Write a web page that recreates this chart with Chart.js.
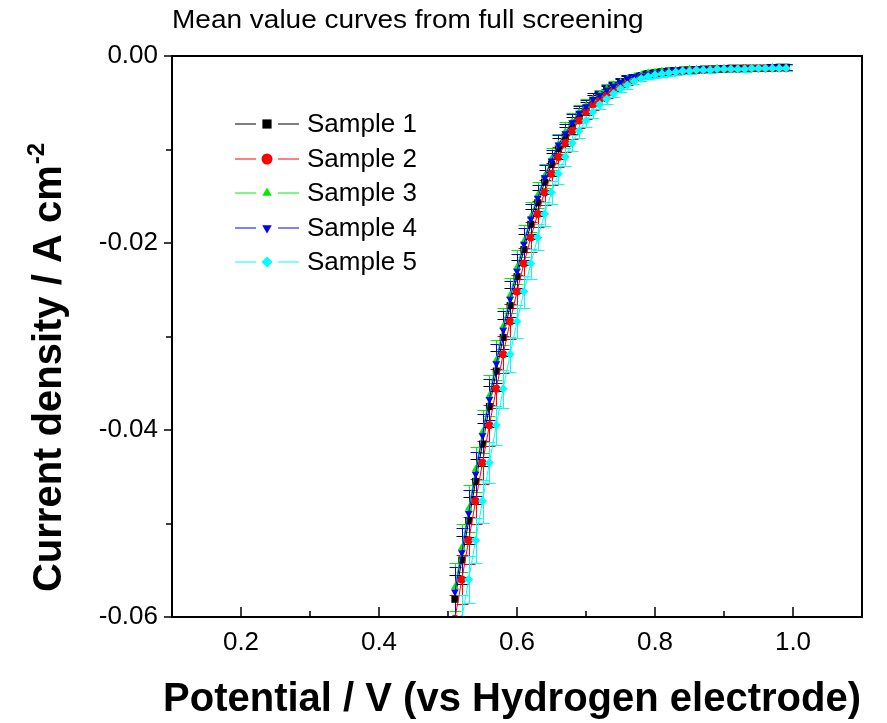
<!DOCTYPE html>
<html>
<head>
<meta charset="utf-8">
<script src="https://cdn.jsdelivr.net/npm/chart.js@4.4.1/dist/chart.umd.min.js"></script>
<style>
  html, body { margin: 0; padding: 0; background: #fff; }
</style>
</head>
<body>
<canvas id="myChart" width="887" height="723"></canvas>
<script>
'use strict';

// potential (V vs HE) shared by all samples
const potential = [0.51, 0.52, 0.53, 0.54, 0.55, 0.56, 0.57, 0.58, 0.59, 0.60,
    0.61, 0.62, 0.63, 0.64, 0.65, 0.66, 0.67, 0.68, 0.69, 0.70,
    0.71, 0.72, 0.73, 0.74, 0.75, 0.76, 0.77, 0.78, 0.79, 0.80,
    0.81, 0.82, 0.83, 0.84, 0.85, 0.86, 0.87, 0.88, 0.89, 0.90,
    0.91, 0.92, 0.93, 0.94, 0.95, 0.96, 0.97, 0.98, 0.99];

const sample1 = [-0.0581, -0.0539, -0.0497, -0.0455, -0.0415, -0.0375, -0.0337, -0.0301, -0.0267, -0.0236,
    -0.0207, -0.0180, -0.0157, -0.0135, -0.0116, -0.0099, -0.0086, -0.0074, -0.0064, -0.0056,
    -0.0048, -0.0043, -0.0037, -0.0033, -0.0029, -0.0025, -0.0023, -0.0021, -0.0019, -0.0018,
    -0.0017, -0.0016, -0.0016, -0.0015, -0.0015, -0.0015, -0.0014, -0.0014, -0.0014, -0.0014,
    -0.0013, -0.0013, -0.0013, -0.0013, -0.0013, -0.0013, -0.0013, -0.0012, -0.0012];
const sample2 = [-0.0602, -0.0560, -0.0518, -0.0476, -0.0435, -0.0395, -0.0356, -0.0319, -0.0284, -0.0252,
    -0.0222, -0.0194, -0.0169, -0.0146, -0.0126, -0.0108, -0.0093, -0.0080, -0.0069, -0.0060,
    -0.0052, -0.0046, -0.0040, -0.0035, -0.0031, -0.0027, -0.0024, -0.0022, -0.0020, -0.0019,
    -0.0018, -0.0017, -0.0016, -0.0016, -0.0015, -0.0015, -0.0015, -0.0014, -0.0014, -0.0014,
    -0.0014, -0.0014, -0.0013, -0.0013, -0.0013, -0.0013, -0.0013, -0.0013, -0.0013];
const sample3 = [-0.0568, -0.0526, -0.0484, -0.0442, -0.0402, -0.0363, -0.0325, -0.0289, -0.0256, -0.0226,
    -0.0198, -0.0172, -0.0149, -0.0128, -0.0110, -0.0094, -0.0081, -0.0070, -0.0060, -0.0053,
    -0.0046, -0.0041, -0.0035, -0.0031, -0.0028, -0.0024, -0.0022, -0.0020, -0.0018, -0.0017,
    -0.0016, -0.0016, -0.0015, -0.0015, -0.0014, -0.0014, -0.0014, -0.0014, -0.0013, -0.0013,
    -0.0013, -0.0013, -0.0013, -0.0013, -0.0013, -0.0013, -0.0012, -0.0012, -0.0012];
const sample4 = [-0.0573, -0.0531, -0.0489, -0.0447, -0.0406, -0.0367, -0.0329, -0.0293, -0.0260, -0.0230,
    -0.0201, -0.0174, -0.0152, -0.0130, -0.0112, -0.0095, -0.0083, -0.0071, -0.0061, -0.0054,
    -0.0046, -0.0042, -0.0036, -0.0032, -0.0028, -0.0024, -0.0022, -0.0021, -0.0019, -0.0018,
    -0.0017, -0.0016, -0.0015, -0.0015, -0.0015, -0.0014, -0.0014, -0.0014, -0.0014, -0.0013,
    -0.0013, -0.0013, -0.0013, -0.0013, -0.0013, -0.0013, -0.0012, -0.0012, -0.0012];
const sample5 = [-0.0644, -0.0602, -0.0560, -0.0518, -0.0476, -0.0435, -0.0395, -0.0356, -0.0319, -0.0284,
    -0.0252, -0.0222, -0.0194, -0.0169, -0.0146, -0.0126, -0.0108, -0.0093, -0.0080, -0.0069,
    -0.0060, -0.0052, -0.0046, -0.0040, -0.0035, -0.0031, -0.0027, -0.0024, -0.0022, -0.0020,
    -0.0019, -0.0018, -0.0017, -0.0016, -0.0016, -0.0015, -0.0015, -0.0015, -0.0014, -0.0014,
    -0.0014, -0.0014, -0.0014, -0.0013, -0.0013, -0.0013, -0.0013, -0.0013, -0.0013];

// standard deviation, same for every sample
const errorBars = [0.0026, 0.0026, 0.0025, 0.0024, 0.0023, 0.0022, 0.0021, 0.0020, 0.0019, 0.0018,
    0.0017, 0.0016, 0.0014, 0.0013, 0.0012, 0.0011, 0.0010, 0.0009, 0.0008, 0.0007,
    0.0006, 0.0005, 0.0005, 0.0004, 0.0004, 0.0004, 0.0003, 0.0003, 0.0003, 0.0003,
    0.0003, 0.0003, 0.0003, 0.0003, 0.0003, 0.0003, 0.0003, 0.0003, 0.0003, 0.0003,
    0.0003, 0.0003, 0.0003, 0.0003, 0.0003, 0.0003, 0.0003, 0.0003, 0.0003];

const sampleNames = ['Sample 1', 'Sample 2', 'Sample 3', 'Sample 4', 'Sample 5'];
const sampleValues = [sample1, sample2, sample3, sample4, sample5];
const colors = ['#000000', '#ff0000', '#00ee00', '#0000ff', '#00ffff'];
const markers = ['rect', 'circle', 'triangle', 'triangle', 'rectRot'];
const markerRotation = [0, 0, 0, 180, 0];
const markerSize = [5, 4, 4.5, 4.5, 4.5];

const xTicks = [0.2, 0.4, 0.6, 0.8, 1.0];
const xMinor = [0.3, 0.5, 0.7, 0.9];
const yTicks = [0, -0.02, -0.04, -0.06];
const yMinor = [-0.01, -0.03, -0.05];

const FONT = "'Liberation Sans', Arial, sans-serif";
Chart.defaults.font.family = FONT;
Chart.defaults.color = '#000';

const datasets = sampleValues.map((vals, i) => ({
    label: sampleNames[i],
    data: vals.map((v, j) => ({ x: potential[j], y: v })),
    showLine: true,
    borderColor: colors[i],
    backgroundColor: colors[i],
    borderWidth: 1,
    pointStyle: markers[i],
    rotation: markerRotation[i],
    pointRadius: markerSize[i],
    pointBorderWidth: 0,
    clip: 0,
    order: 5 - i
}));

// vertical error bars with caps
const errorBarPlugin = {
    id: 'errorBars',
    beforeDatasetsDraw(chart) {
        const { ctx, chartArea: a, scales: { x, y } } = chart;
        ctx.save();
        ctx.beginPath();
        ctx.rect(a.left, a.top, a.right - a.left, a.bottom - a.top);
        ctx.clip();
        ctx.lineWidth = 1;
        chart.data.datasets.forEach(ds => {
            ctx.strokeStyle = ds.borderColor;
            ds.data.forEach((p, j) => {
                const e = errorBars[j];
                const px = Math.round(x.getPixelForValue(p.x)) + 0.5;
                const top = Math.round(y.getPixelForValue(p.y + e)) + 0.5;
                const bot = Math.round(y.getPixelForValue(p.y - e)) + 0.5;
                ctx.beginPath();
                ctx.moveTo(px, top); ctx.lineTo(px, bot);
                ctx.moveTo(px - 6, top); ctx.lineTo(px + 6, top);
                ctx.moveTo(px - 6, bot); ctx.lineTo(px + 6, bot);
                ctx.stroke();
            });
        });
        ctx.restore();
    }
};

// box, tick marks, titles and legend
const decorPlugin = {
    id: 'decor',
    afterDraw(chart) {
        const { ctx, chartArea: a, scales: { x, y } } = chart;
        ctx.save();
        ctx.strokeStyle = '#000';
        ctx.lineWidth = 2;
        ctx.strokeRect(a.left, a.top, a.right - a.left, a.bottom - a.top);

        ctx.lineWidth = 1.5;
        ctx.beginPath();
        xTicks.forEach(v => {
            const px = Math.round(x.getPixelForValue(v));
            ctx.moveTo(px, a.bottom); ctx.lineTo(px, a.bottom - 10);
        });
        xMinor.forEach(v => {
            const px = Math.round(x.getPixelForValue(v));
            ctx.moveTo(px, a.bottom); ctx.lineTo(px, a.bottom - 6);
        });
        yTicks.forEach(v => {
            const py = Math.round(y.getPixelForValue(v));
            ctx.moveTo(a.left, py); ctx.lineTo(a.left - 8, py);
        });
        yMinor.forEach(v => {
            const py = Math.round(y.getPixelForValue(v));
            ctx.moveTo(a.left, py); ctx.lineTo(a.left - 6, py);
        });
        ctx.stroke();

        ctx.fillStyle = '#000';
        ctx.textBaseline = 'alphabetic';
        ctx.textAlign = 'left';
        // title is drawn a little wider than the font's natural width
        ctx.font = '25px ' + FONT;
        ctx.save();
        ctx.translate(172, 28);
        ctx.scale(1.12, 1);
        ctx.fillText('Mean value curves from full screening', 0, 0);
        ctx.restore();

        ctx.textAlign = 'center';
        ctx.font = 'bold 40px ' + FONT;
        ctx.fillText('Potential / V (vs Hydrogen electrode)', (a.left + a.right) / 2 - 5, 711);

        // y title with superscript
        const main = 'Current density / A cm';
        const sup = '-2';
        ctx.font = 'bold 40px ' + FONT;
        const wMain = ctx.measureText(main).width;
        ctx.font = 'bold 24px ' + FONT;
        const wSup = ctx.measureText(sup).width;
        ctx.translate(61, 368);
        ctx.rotate(-Math.PI / 2);
        ctx.textAlign = 'left';
        const start = -(wMain + wSup) / 2;
        ctx.font = 'bold 40px ' + FONT;
        ctx.fillText(main, start, 0);
        ctx.font = 'bold 24px ' + FONT;
        ctx.fillText(sup, start + wMain + 1, -17);
        ctx.setTransform(1, 0, 0, 1, 0, 0);

        // legend
        ctx.font = '26px ' + FONT;
        ctx.textBaseline = 'middle';
        ctx.textAlign = 'left';
        sampleNames.forEach((name, i) => {
            const ly = Math.round(124 + i * 34.6);
            ctx.strokeStyle = colors[i];
            ctx.fillStyle = colors[i];
            ctx.lineWidth = 1;
            ctx.beginPath();
            ctx.moveTo(235, ly); ctx.lineTo(256, ly);
            ctx.moveTo(278, ly); ctx.lineTo(299, ly);
            ctx.stroke();
            Chart.helpers.drawPoint(ctx, {
                pointStyle: markers[i],
                radius: markers[i] === 'rect' ? 6.5 : 5.5,
                rotation: markerRotation[i],
                borderWidth: 0
            }, 267, ly);
            ctx.fillStyle = '#000';
            ctx.fillText(name, 307, ly + 1);
        });
        ctx.restore();
    }
};

const ctx = document.getElementById('myChart').getContext('2d');
const myChart = new Chart(ctx, {
    type: 'scatter',
    data: { datasets: datasets },
    options: {
        responsive: false,
        animation: false,
        events: [],
        layout: { padding: { top: 56, right: 25, left: 0, bottom: 0 } },
        plugins: {
            legend: { display: false },
            tooltip: { enabled: false },
            title: { display: false }
        },
        scales: {
            x: {
                type: 'linear',
                min: 0.1,
                max: 1.1,
                afterBuildTicks: axis => { axis.ticks = xTicks.map(v => ({ value: v })); },
                afterFit: axis => { axis.height = 106; },
                grid: { display: false, drawTicks: false },
                border: { display: false },
                ticks: {
                    padding: 10,
                    maxRotation: 0,
                    font: { size: 26 },
                    callback: v => v.toFixed(1)
                }
            },
            y: {
                type: 'linear',
                min: -0.06,
                max: 0,
                afterBuildTicks: axis => { axis.ticks = yTicks.map(v => ({ value: v })); },
                afterFit: axis => { axis.width = 172; },
                grid: { display: false, drawTicks: false },
                border: { display: false },
                ticks: {
                    padding: 14,
                    font: { size: 26 },
                    callback: v => v.toFixed(2)
                }
            }
        }
    },
    plugins: [errorBarPlugin, decorPlugin]
});
</script>
</body>
</html>
